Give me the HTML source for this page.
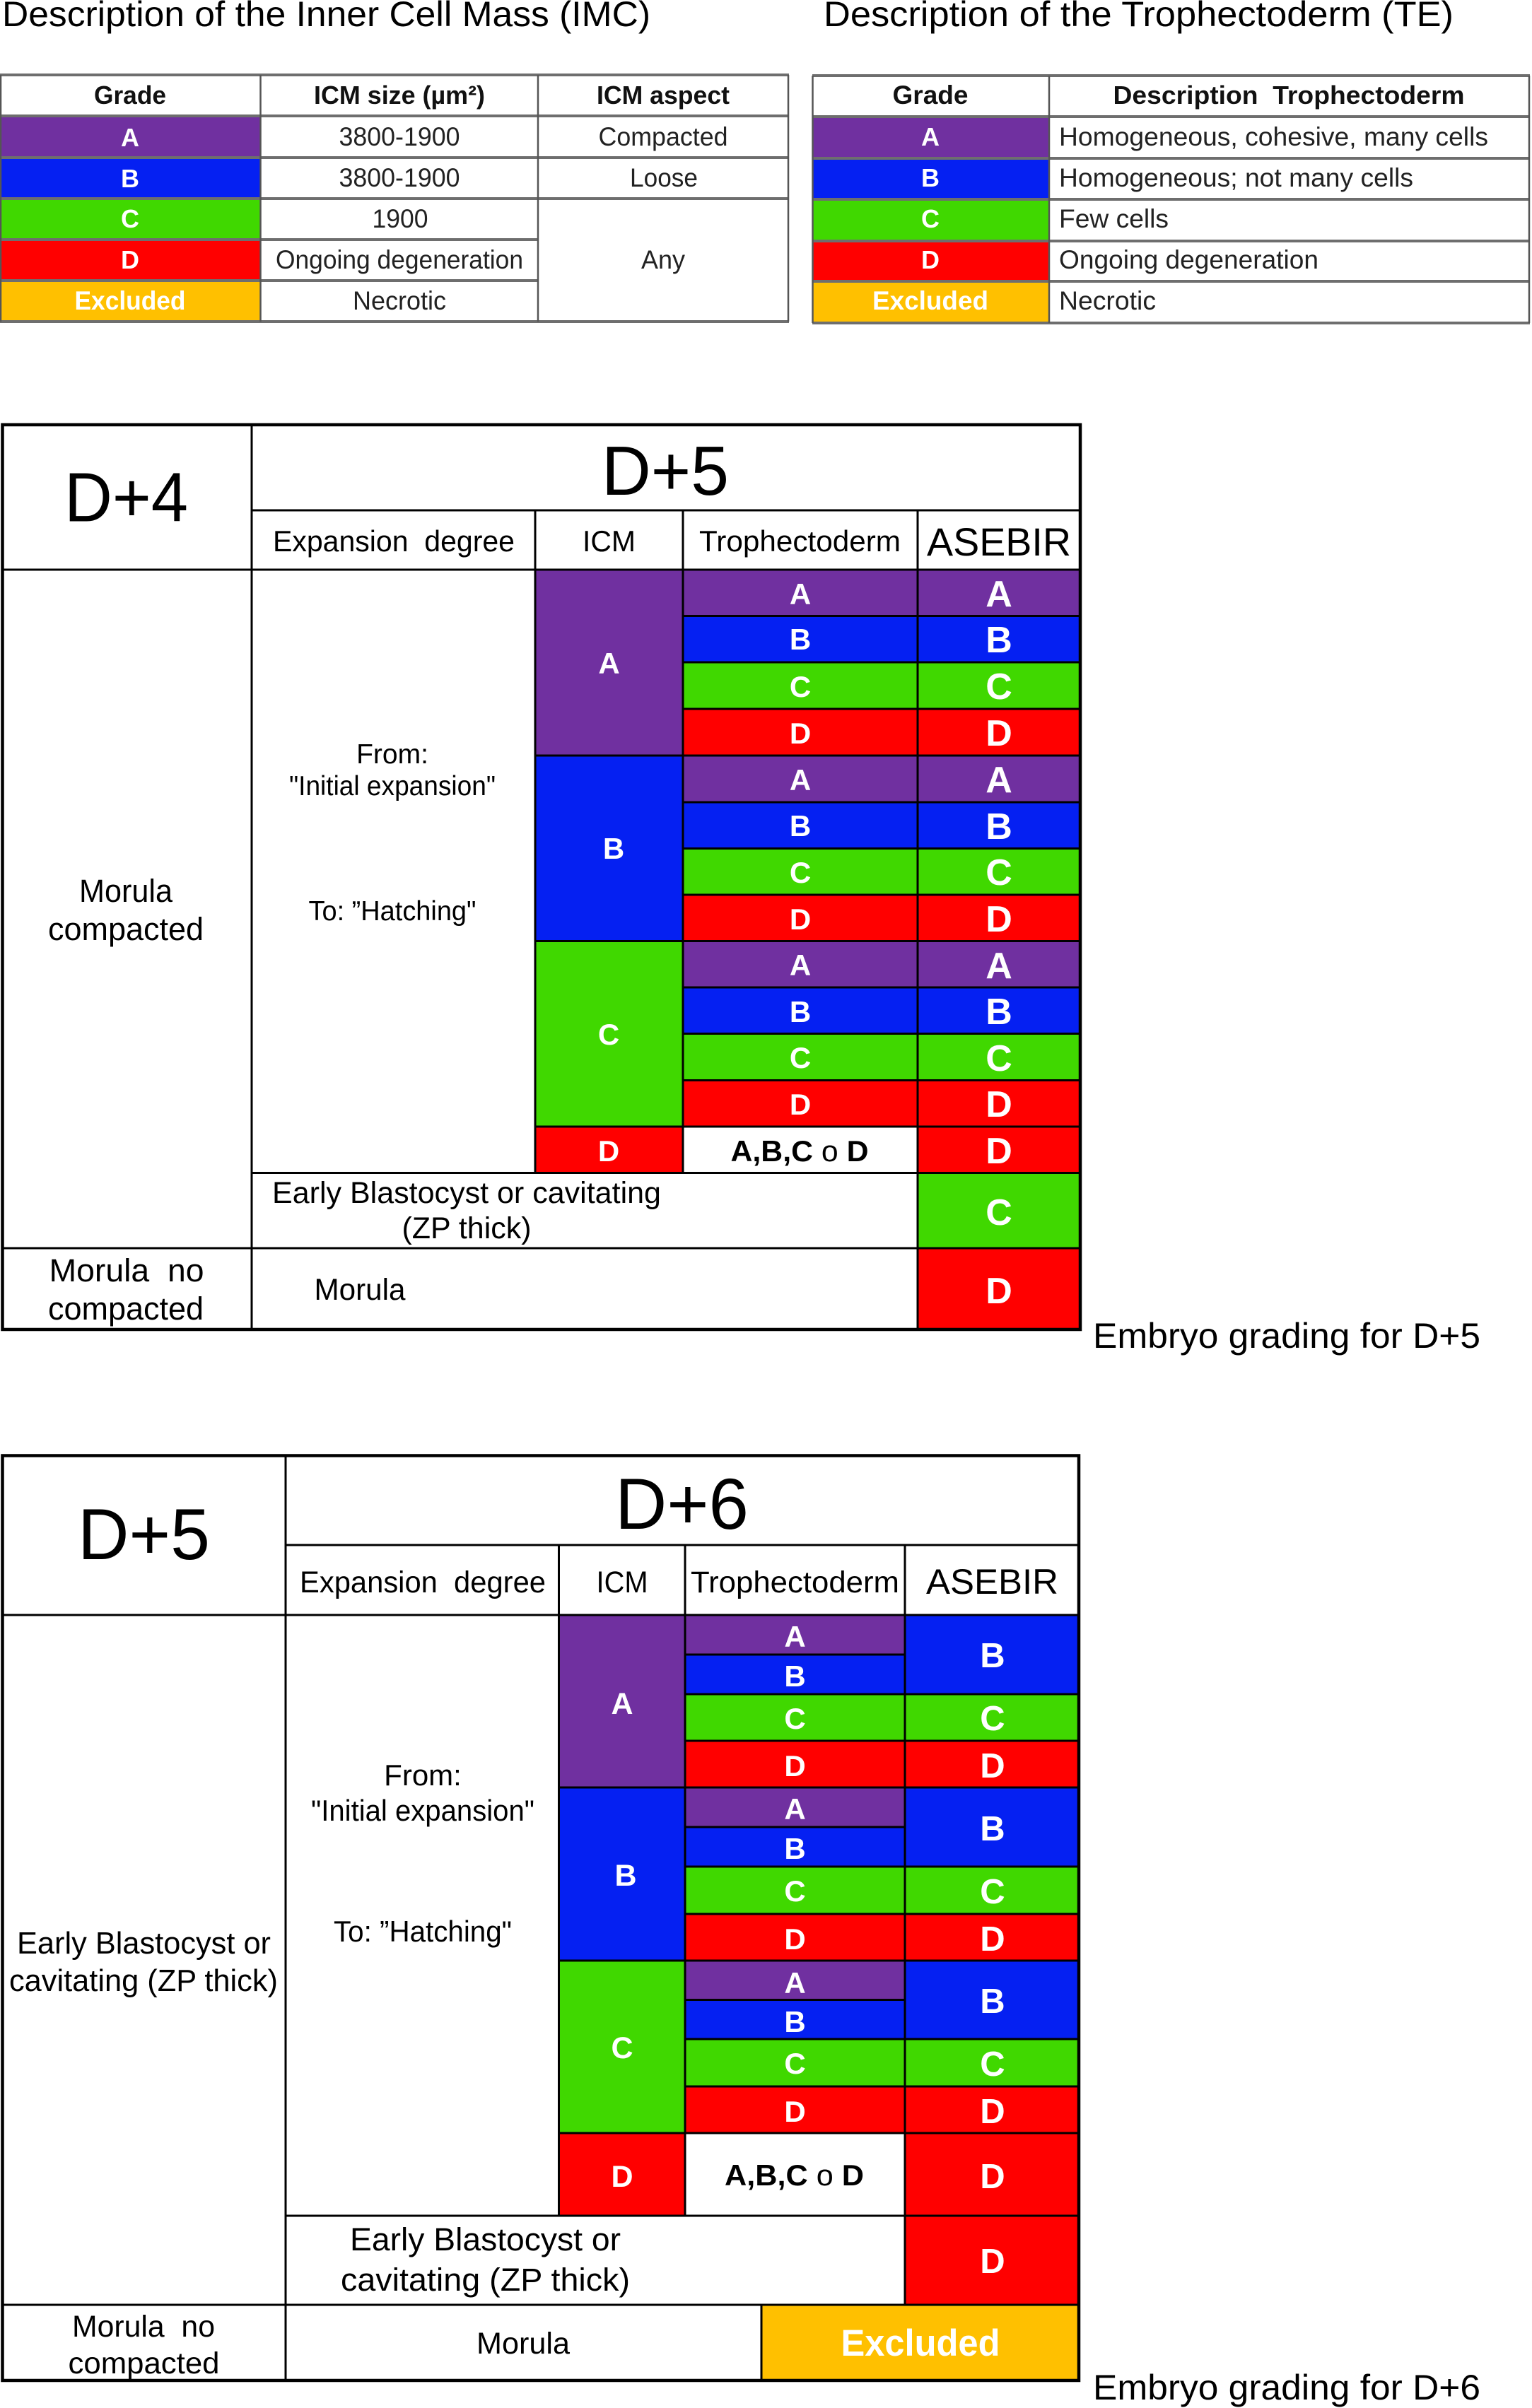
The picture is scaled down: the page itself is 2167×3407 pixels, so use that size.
<!DOCTYPE html>
<html lang="en">
<head>
<meta charset="utf-8">
<title>Embryo grading tables</title>
<style>
html,body{margin:0;padding:0;background:#fff}
svg{display:block}
text{font-family:"Liberation Sans",Arial,sans-serif;fill:#000}
.m{text-anchor:middle}
.w{font-weight:bold;fill:#fff;text-anchor:middle}
.h{font-weight:bold;fill:#111;text-anchor:middle}
.g{fill:#222}
.P{fill:#7030A0}.B{fill:#0520F2}.C{fill:#40D800}.D{fill:#FF0000}.E{fill:#FFC000}
.l1{stroke:#6e6e6e;stroke-width:4;fill:none}
.v1{stroke:#555;stroke-width:2.5;fill:none}
.k{stroke:#000;stroke-width:3;fill:none}
.o{stroke:#000;stroke-width:4.5;fill:none}
.t{font-size:50px}
</style>
</head>
<body>
<svg xmlns="http://www.w3.org/2000/svg" width="2167" height="3407" viewBox="0 0 2167 3407">
<rect x="0" y="0" width="2167" height="3407" fill="#fff"/>

<text class="t" x="3" y="37" textLength="917" lengthAdjust="spacingAndGlyphs">Description of the Inner Cell Mass (IMC)</text>
<text class="t" x="1165" y="37" textLength="891" lengthAdjust="spacingAndGlyphs">Description of the Trophectoderm (TE)</text>

<!-- ICM description table -->
<g>
<g>
<rect class="P" x="0" y="164" width="368" height="59"/>
<rect class="B" x="0" y="223" width="368" height="58"/>
<rect class="C" x="0" y="281" width="368" height="58"/>
<rect class="D" x="0" y="339" width="368" height="58"/>
<rect class="E" x="0" y="397" width="368" height="58"/>
</g>
<g>
<path class="l1" d="M0 106H1116M0 164H1116M0 223H1116M0 281H1116M0 339H761M0 397H761M0 455H1116"/>
<path class="v1" d="M1 106V455M368.500 106V455M761 106V455M1115 106V455"/>
</g>
<text class="h" font-size="36" x="184" y="147" textLength="102" lengthAdjust="spacingAndGlyphs">Grade</text>
<text class="h" font-size="36" x="565" y="147" textLength="242" lengthAdjust="spacingAndGlyphs">ICM size (µm²)</text>
<text class="h" font-size="36" x="938" y="147" textLength="188" lengthAdjust="spacingAndGlyphs">ICM aspect</text>
<text class="w" font-size="36" x="184" y="207">A</text>
<text class="w" font-size="36" x="184" y="265">B</text>
<text class="w" font-size="36" x="184" y="322">C</text>
<text class="w" font-size="36" x="184" y="380">D</text>
<text class="w" font-size="37" x="184" y="438" textLength="157" lengthAdjust="spacingAndGlyphs">Excluded</text>
<text class="m g" font-size="37" x="565" y="206" textLength="171" lengthAdjust="spacingAndGlyphs">3800-1900</text>
<text class="m g" font-size="37" x="565" y="264" textLength="171" lengthAdjust="spacingAndGlyphs">3800-1900</text>
<text class="m g" font-size="37" x="566" y="322" textLength="79" lengthAdjust="spacingAndGlyphs">1900</text>
<text class="m g" font-size="37" x="565" y="380" textLength="350" lengthAdjust="spacingAndGlyphs">Ongoing degeneration</text>
<text class="m g" font-size="37" x="565" y="438" textLength="132" lengthAdjust="spacingAndGlyphs">Necrotic</text>
<text class="m g" font-size="37" x="938" y="206" textLength="183" lengthAdjust="spacingAndGlyphs">Compacted</text>
<text class="m g" font-size="37" x="939" y="264" textLength="96" lengthAdjust="spacingAndGlyphs">Loose</text>
<text class="m g" font-size="37" x="938" y="380" textLength="62" lengthAdjust="spacingAndGlyphs">Any</text>
</g>

<!-- TE description table -->
<g>
<g>
<rect class="P" x="1149" y="165" width="335" height="59"/>
<rect class="B" x="1149" y="224" width="335" height="58"/>
<rect class="C" x="1149" y="282" width="335" height="59"/>
<rect class="D" x="1149" y="341" width="335" height="57"/>
<rect class="E" x="1149" y="398" width="335" height="59"/>
</g>
<g>
<path class="l1" d="M1149 107H2164M1149 165H2164M1149 224H2164M1149 282H2164M1149 341H2164M1149 398H2164M1149 457H2164"/>
<path class="v1" d="M1149.500 107V457M1484 107V457M2163 107V457"/>
</g>
<text class="h" font-size="37" x="1316" y="147" textLength="107" lengthAdjust="spacingAndGlyphs">Grade</text>
<text class="h" font-size="36" x="1823" y="147" textLength="497" lengthAdjust="spacingAndGlyphs">Description&#160;&#160;Trophectoderm</text>
<text class="w" font-size="36" x="1316" y="206">A</text>
<text class="w" font-size="36" x="1316" y="264">B</text>
<text class="w" font-size="36" x="1316" y="322">C</text>
<text class="w" font-size="36" x="1316" y="380">D</text>
<text class="w" font-size="37" x="1316" y="438" textLength="164" lengthAdjust="spacingAndGlyphs">Excluded</text>
<text class="g" font-size="37" x="1498" y="206" textLength="607" lengthAdjust="spacingAndGlyphs">Homogeneous, cohesive, many cells</text>
<text class="g" font-size="37" x="1498" y="264" textLength="501" lengthAdjust="spacingAndGlyphs">Homogeneous; not many cells</text>
<text class="g" font-size="37" x="1498" y="322" textLength="155" lengthAdjust="spacingAndGlyphs">Few cells</text>
<text class="g" font-size="37" x="1498" y="380" textLength="367" lengthAdjust="spacingAndGlyphs">Ongoing degeneration</text>
<text class="g" font-size="37" x="1498" y="438" textLength="137" lengthAdjust="spacingAndGlyphs">Necrotic</text>
</g>

<!-- D+5 grading table -->
<g>
<g>
<rect class="P" x="757" y="806" width="209" height="263"/>
<rect class="B" x="757" y="1069" width="209" height="262.500"/>
<rect class="C" x="757" y="1331.500" width="209" height="262.500"/>
<rect class="D" x="757" y="1594" width="209" height="65.500"/>
<rect class="P" x="966" y="806" width="562" height="65.500"/>
<rect class="B" x="966" y="871.500" width="562" height="65.500"/>
<rect class="C" x="966" y="937" width="562" height="66"/>
<rect class="D" x="966" y="1003" width="562" height="66"/>
<rect class="P" x="966" y="1069" width="562" height="66"/>
<rect class="B" x="966" y="1135" width="562" height="65.500"/>
<rect class="C" x="966" y="1200.500" width="562" height="65.500"/>
<rect class="D" x="966" y="1266" width="562" height="65.500"/>
<rect class="P" x="966" y="1331.500" width="562" height="65.500"/>
<rect class="B" x="966" y="1397" width="562" height="65.500"/>
<rect class="C" x="966" y="1462.500" width="562" height="66"/>
<rect class="D" x="966" y="1528.500" width="562" height="65.500"/>
<rect class="D" x="1298" y="1594" width="230" height="65.500"/>
<rect class="C" x="1298" y="1659.500" width="230" height="106.500"/>
<rect class="D" x="1298" y="1766" width="230" height="115"/>
</g>
<g>
<path class="k" d="M356 722H1528M3.500 806H1528M966 871.500H1528M966 937H1528M966 1003H1528M757 1069H1528M966 1135H1528M966 1200.500H1528M966 1266H1528M757 1331.500H1528M966 1397H1528M966 1462.500H1528M966 1528.500H1528M757 1594H1528M356 1659.500H1528M3.500 1766H1528"/>
<path class="k" d="M356 601V1881M757 722V1659.500M966 722V1659.500M1298 722V1881"/>
<rect class="o" x="3.500" y="601" width="1524.500" height="1280"/>
</g>
<text font-size="98" x="91" y="737.500" textLength="175" lengthAdjust="spacingAndGlyphs">D+4</text>
<text font-size="98" x="851" y="700" textLength="180" lengthAdjust="spacingAndGlyphs">D+5</text>
<text font-size="42" x="386" y="780" textLength="342" lengthAdjust="spacingAndGlyphs">Expansion&#160;&#160;degree</text>
<text class="m" font-size="42" x="861.500" y="780" textLength="75" lengthAdjust="spacingAndGlyphs">ICM</text>
<text font-size="42" x="989" y="780" textLength="285" lengthAdjust="spacingAndGlyphs">Trophectoderm</text>
<text font-size="56" x="1311" y="786" textLength="204" lengthAdjust="spacingAndGlyphs">ASEBIR</text>
<text class="m" font-size="45" x="178" y="1276" textLength="132" lengthAdjust="spacingAndGlyphs">Morula</text>
<text class="m" font-size="45" x="178" y="1330" textLength="220" lengthAdjust="spacingAndGlyphs">compacted</text>
<text class="m" font-size="39" x="555" y="1080">From:</text>
<text class="m" font-size="39" x="555" y="1125" textLength="292" lengthAdjust="spacingAndGlyphs">"Initial expansion"</text>
<text class="m" font-size="39" x="555" y="1302" textLength="237" lengthAdjust="spacingAndGlyphs">To: ”Hatching"</text>
<text font-size="43" x="385" y="1702" textLength="550" lengthAdjust="spacingAndGlyphs">Early Blastocyst or cavitating</text>
<text class="m" font-size="43" x="660" y="1752" textLength="183" lengthAdjust="spacingAndGlyphs">(ZP thick)</text>
<text class="m" font-size="45" x="179" y="1813" textLength="219" lengthAdjust="spacingAndGlyphs">Morula&#160;&#160;no</text>
<text class="m" font-size="45" x="178" y="1867" textLength="220" lengthAdjust="spacingAndGlyphs">compacted</text>
<text class="m" font-size="43" x="509" y="1839" textLength="129" lengthAdjust="spacingAndGlyphs">Morula</text>
<g>
<text class="w" font-size="42" x="861.500" y="953">A</text>
<text class="w" font-size="42" x="868" y="1215">B</text>
<text class="w" font-size="42" x="861" y="1478">C</text>
<text class="w" font-size="42" x="861" y="1643">D</text>
</g>
<g>
<text class="w" font-size="42" x="1132" y="855">A</text>
<text class="w" font-size="42" x="1132" y="919">B</text>
<text class="w" font-size="42" x="1132" y="986">C</text>
<text class="w" font-size="42" x="1132" y="1052">D</text>
<text class="w" font-size="42" x="1132" y="1118">A</text>
<text class="w" font-size="42" x="1132" y="1183">B</text>
<text class="w" font-size="42" x="1132" y="1249">C</text>
<text class="w" font-size="42" x="1132" y="1315">D</text>
<text class="w" font-size="42" x="1132" y="1380">A</text>
<text class="w" font-size="42" x="1132" y="1446">B</text>
<text class="w" font-size="42" x="1132" y="1511">C</text>
<text class="w" font-size="42" x="1132" y="1577">D</text>
<text class="m" font-size="42" font-weight="bold" x="1131" y="1643" textLength="195" lengthAdjust="spacingAndGlyphs">A,B,C <tspan font-weight="normal">o</tspan> D</text>
</g>
<g>
<text class="w" font-size="52" x="1413" y="858">A</text>
<text class="w" font-size="52" x="1413" y="923">B</text>
<text class="w" font-size="52" x="1413" y="989">C</text>
<text class="w" font-size="52" x="1413" y="1055">D</text>
<text class="w" font-size="52" x="1413" y="1121">A</text>
<text class="w" font-size="52" x="1413" y="1187">B</text>
<text class="w" font-size="52" x="1413" y="1252">C</text>
<text class="w" font-size="52" x="1413" y="1318">D</text>
<text class="w" font-size="52" x="1413" y="1384">A</text>
<text class="w" font-size="52" x="1413" y="1449">B</text>
<text class="w" font-size="52" x="1413" y="1515">C</text>
<text class="w" font-size="52" x="1413" y="1580">D</text>
<text class="w" font-size="52" x="1413" y="1646">D</text>
<text class="w" font-size="52" x="1413" y="1733">C</text>
<text class="w" font-size="52" x="1413" y="1844">D</text>
</g>
</g>
<text class="t" x="1546" y="1907" textLength="548" lengthAdjust="spacingAndGlyphs">Embryo grading for D+5</text>

<!-- D+6 grading table -->
<g>
<g>
<rect class="P" x="790.500" y="2285" width="178.500" height="244"/>
<rect class="B" x="790.500" y="2529" width="178.500" height="245"/>
<rect class="C" x="790.500" y="2774" width="178.500" height="244"/>
<rect class="D" x="790.500" y="3018" width="178.500" height="117"/>
<rect class="P" x="969" y="2285" width="311" height="56"/>
<rect class="B" x="969" y="2341" width="311" height="56"/>
<rect class="C" x="969" y="2397" width="557" height="66"/>
<rect class="D" x="969" y="2463" width="557" height="66"/>
<rect class="P" x="969" y="2529" width="311" height="56"/>
<rect class="B" x="969" y="2585" width="311" height="56"/>
<rect class="C" x="969" y="2641" width="557" height="67"/>
<rect class="D" x="969" y="2708" width="557" height="66"/>
<rect class="P" x="969" y="2774" width="311" height="55.500"/>
<rect class="B" x="969" y="2829.500" width="311" height="55.500"/>
<rect class="C" x="969" y="2885" width="557" height="67"/>
<rect class="D" x="969" y="2952" width="557" height="66"/>
<rect class="B" x="1280" y="2285" width="246" height="112"/>
<rect class="B" x="1280" y="2529" width="246" height="112"/>
<rect class="B" x="1280" y="2774" width="246" height="111"/>
<rect class="D" x="1280" y="3018" width="246" height="117"/>
<rect class="D" x="1280" y="3135" width="246" height="126"/>
<rect class="E" x="1077" y="3261" width="449" height="107"/>
</g>
<g>
<path class="k" d="M404 2186H1526M3.500 2285H1526M969 2341H1280M969 2397H1526M969 2463H1526M790.500 2529H1526M969 2585H1280M969 2641H1526M969 2708H1526M790.500 2774H1526M969 2829.500H1280M969 2885H1526M969 2952H1526M790.500 3018H1526M404 3135H1526M3.500 3261H1526"/>
<path class="k" d="M404 2059.500V3368M790.500 2186V3135M969 2186V3135M1280 2186V3261M1077 3261V3368"/>
<rect class="o" x="3.500" y="2059.500" width="1522.500" height="1308.500"/>
</g>
<text font-size="102" x="110" y="2206" textLength="187" lengthAdjust="spacingAndGlyphs">D+5</text>
<text font-size="102" x="870" y="2163" textLength="189" lengthAdjust="spacingAndGlyphs">D+6</text>
<text font-size="43" x="424" y="2253" textLength="348" lengthAdjust="spacingAndGlyphs">Expansion&#160;&#160;degree</text>
<text class="m" font-size="43" x="880" y="2253" textLength="73" lengthAdjust="spacingAndGlyphs">ICM</text>
<text font-size="43" x="977" y="2253" textLength="295" lengthAdjust="spacingAndGlyphs">Trophectoderm</text>
<text font-size="50" x="1310" y="2255" textLength="187" lengthAdjust="spacingAndGlyphs">ASEBIR</text>
<text class="m" font-size="44" x="203.500" y="2764" textLength="359" lengthAdjust="spacingAndGlyphs">Early Blastocyst or</text>
<text class="m" font-size="44" x="203" y="2817" textLength="380" lengthAdjust="spacingAndGlyphs">cavitating (ZP thick)</text>
<text class="m" font-size="42" x="598" y="2526">From:</text>
<text class="m" font-size="42" x="598" y="2576" textLength="316" lengthAdjust="spacingAndGlyphs">"Initial expansion"</text>
<text class="m" font-size="42" x="598" y="2747" textLength="252" lengthAdjust="spacingAndGlyphs">To: ”Hatching"</text>
<text class="m" font-size="45" x="686.500" y="3184" textLength="383" lengthAdjust="spacingAndGlyphs">Early Blastocyst or</text>
<text class="m" font-size="45" x="686.500" y="3241" textLength="409" lengthAdjust="spacingAndGlyphs">cavitating (ZP thick)</text>
<text class="m" font-size="43" x="203" y="3306" textLength="202" lengthAdjust="spacingAndGlyphs">Morula&#160;&#160;no</text>
<text class="m" font-size="43" x="203.500" y="3358" textLength="214" lengthAdjust="spacingAndGlyphs">compacted</text>
<text class="m" font-size="43" x="740" y="3330" textLength="132" lengthAdjust="spacingAndGlyphs">Morula</text>
<text class="w" font-size="53" x="1302" y="3333" textLength="225" lengthAdjust="spacingAndGlyphs">Excluded</text>
<g>
<text class="w" font-size="43" x="880" y="2425">A</text>
<text class="w" font-size="43" x="885" y="2668">B</text>
<text class="w" font-size="43" x="880" y="2912">C</text>
<text class="w" font-size="43" x="880" y="3094">D</text>
</g>
<g>
<text class="w" font-size="42" x="1124.500" y="2330">A</text>
<text class="w" font-size="42" x="1124.500" y="2386">B</text>
<text class="w" font-size="42" x="1124.500" y="2446">C</text>
<text class="w" font-size="42" x="1124.500" y="2513">D</text>
<text class="w" font-size="42" x="1124.500" y="2574">A</text>
<text class="w" font-size="42" x="1124.500" y="2630">B</text>
<text class="w" font-size="42" x="1124.500" y="2690">C</text>
<text class="w" font-size="42" x="1124.500" y="2758">D</text>
<text class="w" font-size="42" x="1124.500" y="2820">A</text>
<text class="w" font-size="42" x="1124.500" y="2875">B</text>
<text class="w" font-size="42" x="1124.500" y="2934">C</text>
<text class="w" font-size="42" x="1124.500" y="3002">D</text>
<text class="m" font-size="42" font-weight="bold" x="1123.500" y="3092" textLength="197" lengthAdjust="spacingAndGlyphs">A,B,C <tspan font-weight="normal">o</tspan> D</text>
</g>
<g>
<text class="w" font-size="49" x="1404" y="2359">B</text>
<text class="w" font-size="49" x="1404" y="2448">C</text>
<text class="w" font-size="49" x="1404" y="2515">D</text>
<text class="w" font-size="49" x="1404" y="2604">B</text>
<text class="w" font-size="49" x="1404" y="2693">C</text>
<text class="w" font-size="49" x="1404" y="2760">D</text>
<text class="w" font-size="49" x="1404" y="2848">B</text>
<text class="w" font-size="49" x="1404" y="2937">C</text>
<text class="w" font-size="49" x="1404" y="3004">D</text>
<text class="w" font-size="49" x="1404" y="3096">D</text>
<text class="w" font-size="49" x="1404" y="3216">D</text>
</g>
</g>
<text class="t" x="1546" y="3395" textLength="548" lengthAdjust="spacingAndGlyphs">Embryo grading for D+6</text>
</svg>
</body>
</html>
